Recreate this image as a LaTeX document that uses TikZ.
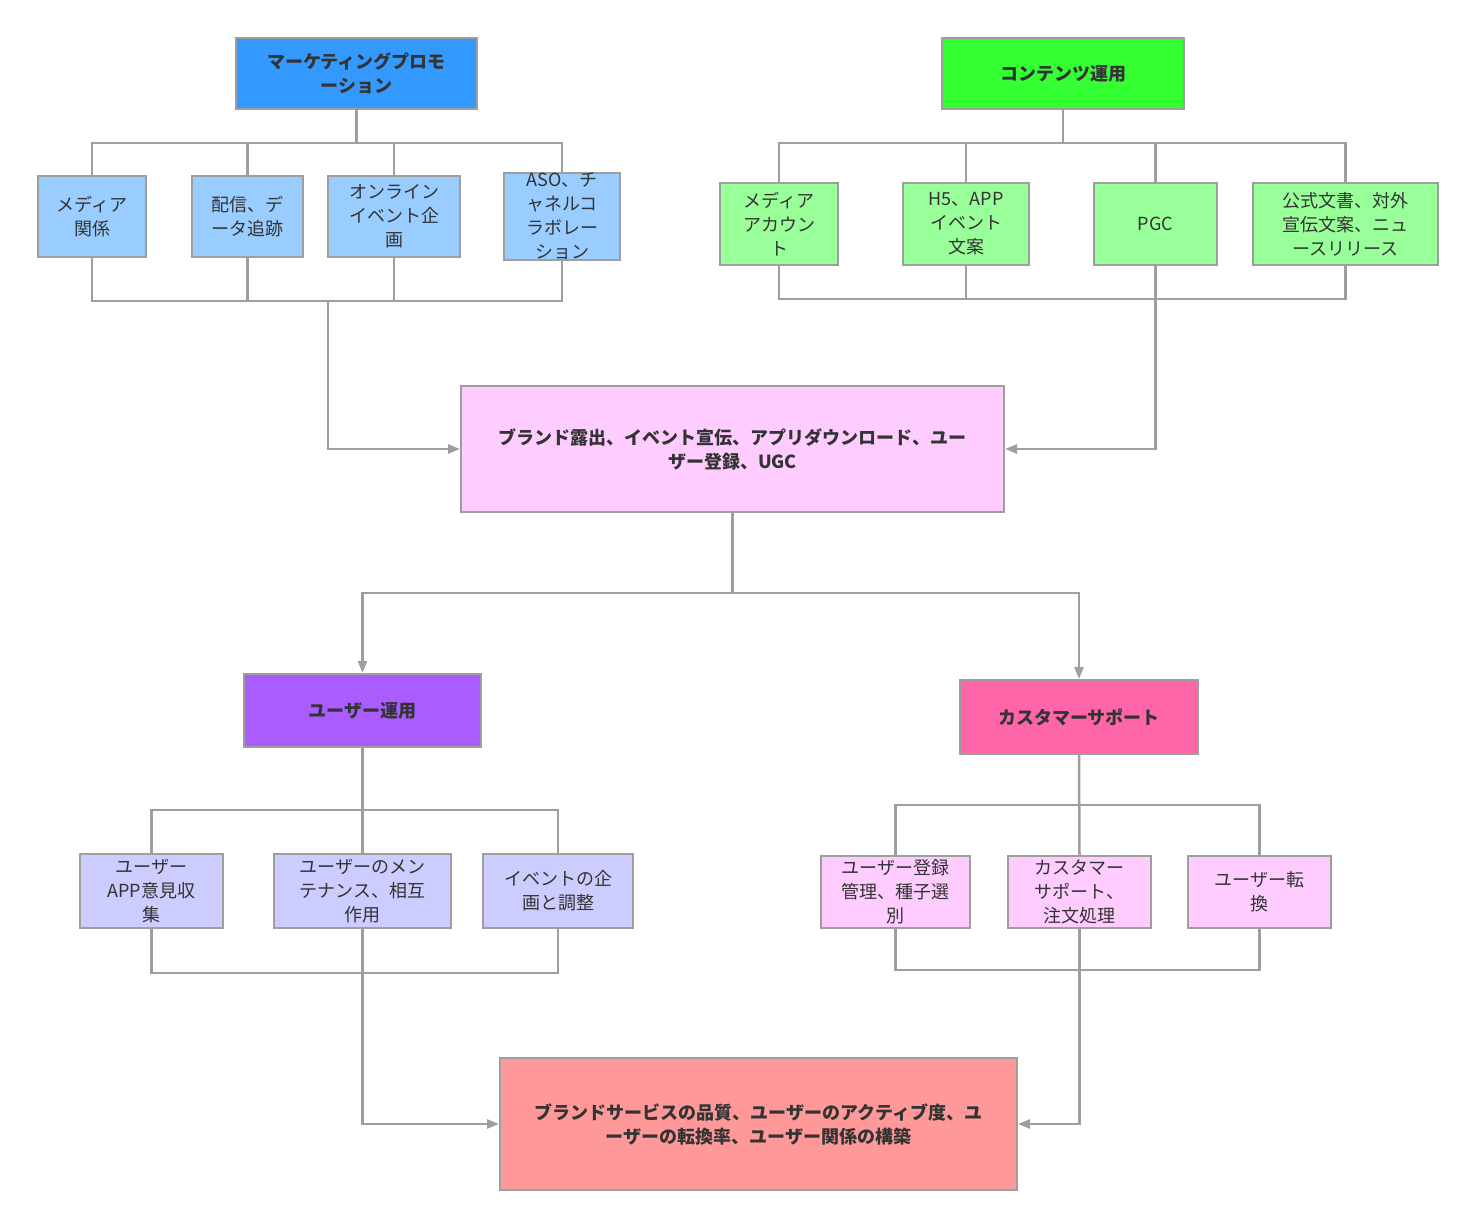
\documentclass[tikz,border=0pt]{standalone}
\usepackage{fontspec}
\setmainfont{Noto Sans CJK JP}
\usetikzlibrary{arrows.meta}
\definecolor{ln}{HTML}{9E9E9E}
\definecolor{cM}{HTML}{3399FF}
\definecolor{cC}{HTML}{33FF33}
\definecolor{cb}{HTML}{99CCFF}
\definecolor{cg}{HTML}{99FF99}
\definecolor{cp}{HTML}{FFCCFF}
\definecolor{cU}{HTML}{AA5CFF}
\definecolor{cS}{HTML}{FF66AA}
\definecolor{cu}{HTML}{CCCCFF}
\definecolor{cF}{HTML}{FF9999}
\begin{document}
\begin{tikzpicture}[x=1pt,y=-1pt,
  box/.style={draw=ln,line width=2pt,inner sep=0pt,align=center,font=\fontsize{18}{24}\selectfont,text=black!80},
  hd/.style={box,font=\fontsize{18}{24}\selectfont\bfseries},
  ln/.style={draw=ln,line width=2.5pt},
  ar/.style={ln,-{Triangle[length=12pt,width=9pt]}}]
\useasboundingbox[fill=white] (0,0) rectangle (1476,1228);
\newcommand\bx[7]{\node[#1,fill=#2,minimum width=#5-#3,minimum height=#6-#4] (#7) at ({(#3+#5)/2},{(#4+#6)/2})}
\bx{hd}{cM}{236}{38}{477}{109}{M}{マーケティングプロモ\\ーション};
\bx{hd}{cC}{942}{38}{1184}{109}{C}{コンテンツ運用};
\bx{box}{cb}{38}{176}{146}{257}{b1}{メディア\\関係};
\bx{box}{cb}{192}{176}{303}{257}{b2}{配信、デ\\ータ追跡};
\bx{box}{cb}{328}{176}{460}{257}{b3}{オンライン\\イベント企\\画};
\bx{box}{cb}{504}{176}{620}{257}{b4}{ASO、チ\\ャネルコ\\ラボレー\\ション};
\bx{box}{cg}{720}{183}{838}{265}{g1}{メディア\\アカウン\\ト};
\bx{box}{cg}{903}{183}{1029}{265}{g2}{H5、APP\\イベント\\文案};
\bx{box}{cg}{1094}{183}{1217}{265}{g3}{PGC};
\bx{box}{cg}{1253}{183}{1438}{265}{g4}{公式文書、対外\\宣伝文案、ニュ\\ースリリース};
\bx{hd}{cp}{461}{386}{1004}{512}{P}{ブランド露出、イベント宣伝、アプリダウンロード、ユー\\ザー登録、UGC};
\bx{hd}{cU}{244}{674}{481}{747}{U}{ユーザー運用};
\bx{hd}{cS}{960}{680}{1198}{754}{S}{カスタマーサポート};
\bx{box}{cu}{80}{854}{223}{928}{u1}{ユーザー\\APP意見収\\集};
\bx{box}{cu}{274}{854}{451}{928}{u2}{ユーザーのメン\\テナンス、相互\\作用};
\bx{box}{cu}{483}{854}{633}{928}{u3}{イベントの企\\画と調整};
\bx{box}{cp}{821}{856}{970}{928}{s1}{ユーザー登録\\管理、種子選\\別};
\bx{box}{cp}{1008}{856}{1151}{928}{s2}{カスタマー\\サポート、\\注文処理};
\bx{box}{cp}{1188}{856}{1331}{928}{s3}{ユーザー転\\換};
\bx{hd}{cF}{500}{1058}{1017}{1190}{F}{ブランドサービスの品質、ユーザーのアクティブ度、ユ\\ーザーの転換率、ユーザー関係の構築};
% blue tree
\coordinate (t1) at (0,143); \coordinate (d1) at (0,301); \coordinate (j1) at (328,301);
\draw[ln] (M.south) -- (M.south|-t1);
\draw[ln] (b1.north) -- (b1.north|-t1) -- (b4.north|-t1) -- (b4.north);
\foreach \n in {b2,b3} \draw[ln] (\n.north) -- (\n.north|-t1);
\draw[ln] (b1.south) -- (b1.south|-d1) -- (b4.south|-d1) -- (b4.south);
\foreach \n in {b2,b3} \draw[ln] (\n.south) -- (\n.south|-d1);
\draw[ar] (j1) |- (P.west);
% green tree
\coordinate (t2) at (0,143); \coordinate (d2) at (0,299);
\draw[ln] (C.south) -- (C.south|-t2);
\draw[ln] (g1.north) -- (g1.north|-t2) -- (g4.north|-t2) -- (g4.north);
\foreach \n in {g2,g3} \draw[ln] (\n.north) -- (\n.north|-t2);
\draw[ln] (g1.south) -- (g1.south|-d2) -- (g4.south|-d2) -- (g4.south);
\draw[ln] (g2.south) -- (g2.south|-d2);
\draw[ar] (g3.south) |- (P.east);
% center split
\coordinate (t3) at (0,593);
\draw[ln] (P.south) -- (P.south|-t3);
\draw[ar] (P.south|-t3) -| (U.north);
\draw[ar] (P.south|-t3) -| (S.north);
% user tree
\coordinate (t4) at (0,810); \coordinate (d4) at (0,973);
\draw[ln] (U.south) -- (u2.north);
\draw[ln] (u1.north) -- (u1.north|-t4) -- (u3.north|-t4) -- (u3.north);
\draw[ln] (u1.south) -- (u1.south|-d4) -- (u3.south|-d4) -- (u3.south);
\draw[ar] (u2.south) |- (F.west);
% support tree
\coordinate (t5) at (0,805); \coordinate (d5) at (0,970);
\draw[ln] (S.south) -- (s2.north);
\draw[ln] (s1.north) -- (s1.north|-t5) -- (s3.north|-t5) -- (s3.north);
\draw[ln] (s1.south) -- (s1.south|-d5) -- (s3.south|-d5) -- (s3.south);
\draw[ar] (s2.south) |- (F.east);
\end{tikzpicture}
\end{document}
